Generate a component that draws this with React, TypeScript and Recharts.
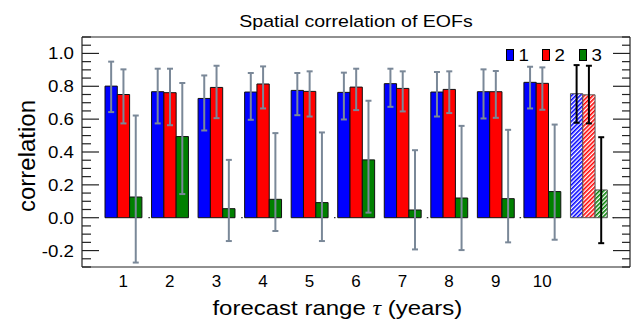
import React from 'react';
import { BarChart, Bar, XAxis, YAxis, ErrorBar, Cell, Legend, ReferenceLine } from 'recharts';

// ---------- data ----------
const categories = ['1', '2', '3', '4', '5', '6', '7', '8', '9', '10', ''];
const isSummary = [false, false, false, false, false, false, false, false, false, false, true];

const eof1 = [0.801, 0.767, 0.726, 0.765, 0.775, 0.763, 0.816, 0.765, 0.767, 0.824, 0.755];
const eof1Low = [0.643, 0.574, 0.531, 0.596, 0.624, 0.598, 0.675, 0.616, 0.604, 0.665, 0.578];
const eof1High = [0.95, 0.907, 0.866, 0.881, 0.881, 0.883, 0.907, 0.887, 0.903, 0.919, 0.929];

const eof2 = [0.75, 0.761, 0.793, 0.814, 0.769, 0.795, 0.787, 0.781, 0.767, 0.818, 0.748];
const eof2Low = [0.574, 0.563, 0.606, 0.665, 0.616, 0.655, 0.647, 0.637, 0.608, 0.657, 0.574];
const eof2High = [0.903, 0.907, 0.925, 0.921, 0.891, 0.907, 0.891, 0.891, 0.893, 0.915, 0.925];

const eof3 = [0.126, 0.494, 0.055, 0.112, 0.092, 0.352, 0.047, 0.12, 0.116, 0.159, 0.169];
const eof3Low = [-0.273, 0.144, -0.142, -0.081, -0.142, 0.031, -0.193, -0.197, -0.15, -0.134, -0.155];
const eof3High = [0.622, 0.82, 0.352, 0.515, 0.519, 0.712, 0.411, 0.559, 0.535, 0.567, 0.49];

const seriesNames = ['1', '2', '3'];
const seriesColors = ['#0000ff', '#ff0000', '#008000'];
const hatchIds = ['hatchBlue', 'hatchRed', 'hatchGreen'];

const yMajorTicks = [-0.2, 0, 0.2, 0.4, 0.6, 0.8, 1.0];
const yAllTicks = [
  -0.3, -0.25, -0.2, -0.15, -0.1, -0.05, 0, 0.05, 0.1, 0.15, 0.2, 0.25, 0.3, 0.35, 0.4,
  0.45, 0.5, 0.55, 0.6, 0.65, 0.7, 0.75, 0.8, 0.85, 0.9, 0.95, 1.0, 1.05, 1.1,
];

const titleText = 'Spatial correlation of EOFs';
const yTitle = 'correlation';
const xTitleParts = ['forecast range ', 'τ', ' (years)'];

// ---------- table built from the arrays ----------
const values = [eof1, eof2, eof3];
const lows = [eof1Low, eof2Low, eof3Low];
const highs = [eof1High, eof2High, eof3High];

const data = categories.map((cat, i) => {
  const row: any = { cat };
  values.forEach((arr, s) => {
    const err = [arr[i] - lows[s][i], highs[s][i] - arr[i]];
    row[`v${s}`] = arr[i];
    row[`e${s}`] = isSummary[i] ? null : err;
    row[`k${s}`] = isSummary[i] ? err : null;
  });
  return row;
});

// ---------- styles ----------
const FONT = '"Liberation Sans", Arial, Helvetica, sans-serif';
const FRAME = '#222';
const ERR_GRAY = '#7a8898';

const isMajor = (v: number) => yMajorTicks.some((m) => Math.abs(m - v) < 1e-6);

const LeftTick = (props: any) => {
  const { x, y, payload } = props;
  const v = Number(payload.value);
  const axisX = x + 8;
  const major = isMajor(v);
  return (
    <g>
      <line x1={axisX} x2={axisX + (major ? 17 : 9)} y1={y} y2={y} stroke={FRAME} strokeWidth={1.2} />
      {major && (
        <text
          transform={`translate(${x},${y + 6}) scale(1.1,1)`}
          textAnchor="end"
          fontFamily={FONT}
          fontSize={17}
          fill="#000"
        >
          {v.toFixed(1)}
        </text>
      )}
    </g>
  );
};

const RightTick = (props: any) => {
  const { x, y, payload } = props;
  const v = Number(payload.value);
  const major = isMajor(v);
  return <line x1={x} x2={x - (major ? 17 : 8)} y1={y} y2={y} stroke={FRAME} strokeWidth={1.2} />;
};

const XTick = (props: any) => {
  const { x, y, payload } = props;
  return (
    <text x={x} y={y + 19.5} textAnchor="middle" fontFamily={FONT} fontSize={17} fill="#000">
      {payload.value}
    </text>
  );
};

const TitleLabel = (props: any) => {
  const vb = props.viewBox || { x: 82, y: 36, width: 548, height: 1 };
  const cx = vb.x + vb.width / 2;
  return (
    <text
      transform={`translate(${cx},${vb.y - 9.5}) scale(1.15,1)`}
      textAnchor="middle"
      fontFamily={FONT}
      fontSize={17}
      fill="#000"
    >
      {titleText}
    </text>
  );
};

const XTitleLabel = (props: any) => {
  const vb = props.viewBox || { x: 82, y: 267, width: 548, height: 56 };
  const cx = vb.x + vb.width * 0.466;
  return (
    <text
      transform={`translate(${cx},${vb.y + 47.5}) scale(1.2,1)`}
      textAnchor="middle"
      fontFamily={FONT}
      fontSize={20}
      fill="#000"
    >
      {xTitleParts[0]}
      <tspan fontFamily='"Liberation Serif", "DejaVu Serif", serif' fontStyle="italic">
        {xTitleParts[1]}
      </tspan>
      {xTitleParts[2]}
    </text>
  );
};

const YTitleLabel = (props: any) => {
  const vb = props.viewBox || { x: 0, y: 37, width: 82, height: 230 };
  const x = vb.x + 35;
  const y = vb.y + vb.height / 2 + 4;
  return (
    <text
      transform={`translate(${x},${y}) rotate(-90)`}
      textAnchor="middle"
      fontFamily={FONT}
      fontSize={24}
      fill="#000"
    >
      {yTitle}
    </text>
  );
};

const LegendContent = () => (
  <div style={{ display: 'flex', fontFamily: FONT, fontSize: 17, lineHeight: '17px', color: '#000' }}>
    {seriesNames.map((n, i) => (
      <div key={n} style={{ display: 'flex', alignItems: 'baseline', width: 36.7 }}>
        <span
          style={{
            display: 'inline-block',
            width: 6,
            height: 10,
            background: seriesColors[i],
            border: '1px solid #000',
          }}
        />
        <span style={{ marginLeft: 5, display: 'inline-block', transform: 'scaleX(1.1)' }}>{n}</span>
      </div>
    ))}
  </div>
);

export default function App() {
  return (
    <div style={{ position: 'absolute', left: 0, top: 0, width: 635, height: 323, background: '#fff' }}>
      <svg width={0} height={0} style={{ position: 'absolute' }}>
        <defs>
          {seriesColors.map((c, i) => (
            <pattern
              key={hatchIds[i]}
              id={hatchIds[i]}
              width={3}
              height={3}
              patternUnits="userSpaceOnUse"
              patternTransform="rotate(45)"
            >
              <rect width={3} height={3} fill="#ffffff" />
              <rect width={1.6} height={3} fill={c} />
            </pattern>
          ))}
        </defs>
      </svg>
      <BarChart
        width={635}
        height={323}
        data={data}
        margin={{ top: 36, right: 0, bottom: 0, left: 0 }}
        barGap={0}
        barCategoryGap="10%"
      >
        <XAxis
          xAxisId="top"
          orientation="top"
          dataKey="cat"
          height={1}
          tick={false}
          tickLine={false}
          padding={{ left: 18, right: 18 }}
          axisLine={{ stroke: FRAME, strokeWidth: 1.2 }}
          label={TitleLabel}
        />
        <XAxis
          dataKey="cat"
          height={56}
          tickSize={0}
          tickMargin={0}
          tickLine={false}
          interval={0}
          tick={XTick}
          padding={{ left: 18, right: 18 }}
          axisLine={{ stroke: FRAME, strokeWidth: 1.2 }}
          label={XTitleLabel}
        />
        <YAxis
          type="number"
          width={82}
          domain={[-0.3, 1.1]}
          allowDataOverflow
          ticks={yAllTicks}
          interval={0}
          tickSize={0}
          tickMargin={8}
          tickLine={false}
          tick={LeftTick}
          axisLine={{ stroke: FRAME, strokeWidth: 1.2 }}
          label={YTitleLabel}
        />
        <YAxis
          yAxisId="right"
          orientation="right"
          type="number"
          width={5}
          domain={[-0.3, 1.1]}
          allowDataOverflow
          ticks={yAllTicks}
          interval={0}
          tickSize={0}
          tickMargin={0}
          tickLine={false}
          tick={RightTick}
          axisLine={{ stroke: FRAME, strokeWidth: 1.2 }}
        />
        <ReferenceLine
          y={0}
          stroke="#333"
          strokeWidth={1.2}
          strokeDasharray="1.5 91.3"
          strokeDashoffset={26.4}
        />
        {seriesNames.map((n, s) => (
          <Bar
            key={n}
            dataKey={`v${s}`}
            name={n}
            barSize={12.3}
            fill={seriesColors[s]}
            stroke="#111"
            strokeWidth={1}
            isAnimationActive={false}
          >
            {data.map((_, i) => (
              <Cell
                key={i}
                fill={isSummary[i] ? `url(#${hatchIds[s]})` : seriesColors[s]}
                stroke={isSummary[i] ? '#555' : '#111'}
              />
            ))}
            <ErrorBar dataKey={`e${s}`} stroke={ERR_GRAY} strokeWidth={2} width={3} isAnimationActive={false} />
            <ErrorBar dataKey={`k${s}`} stroke="#000" strokeWidth={2} width={3} isAnimationActive={false} />
          </Bar>
        ))}
        <Legend
          layout="vertical"
          verticalAlign="middle"
          align="center"
          wrapperStyle={{ top: 46.6, left: 505.7, width: 120, height: 17 }}
          content={LegendContent}
        />
      </BarChart>
    </div>
  );
}
